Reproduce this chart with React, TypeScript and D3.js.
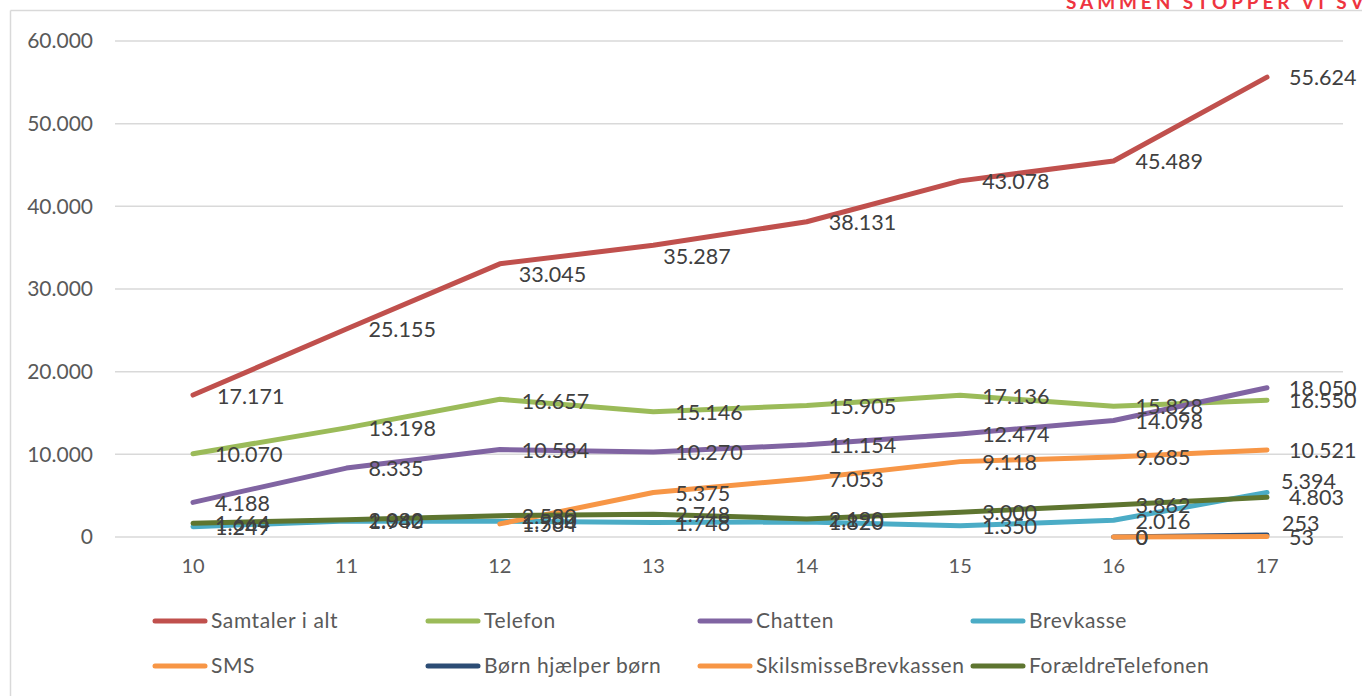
import React from "react";
import * as d3 from "d3";

const years = ["10", "11", "12", "13", "14", "15", "16", "17"];
const samtaler = [17171, 25155, 33045, 35287, 38131, 43078, 45489, 55624];
const telefon = [10070, 13198, 16657, 15146, 15905, 17136, 15828, 16550];
const chatten = [4188, 8335, 10584, 10270, 11154, 12474, 14098, 18050];
const brevkasse = [1249, 1940, 1900, 1748, 1820, 1350, 2016, 5394];
const sms = [null, null, 1584, 5375, 7053, 9118, 9685, 10521];
const bornHjaelper = [null, null, null, null, null, null, 0, 253];
const skilsmisse = [null, null, null, null, null, null, 0, 53];
const foraeldre = [1664, 2082, 2580, 2748, 2190, 3000, 3862, 4803];
const yTicks = [0, 10000, 20000, 30000, 40000, 50000, 60000];

type S = { name: string; values: (number | null)[]; color: string };
const series: S[] = [
  { name: "Samtaler i alt", values: samtaler, color: "#C0504D" },
  { name: "Telefon", values: telefon, color: "#9BBB59" },
  { name: "Chatten", values: chatten, color: "#8064A2" },
  { name: "Brevkasse", values: brevkasse, color: "#4BACC6" },
  { name: "SMS", values: sms, color: "#F79646" },
  { name: "Børn hjælper børn", values: bornHjaelper, color: "#2C4D75" },
  { name: "SkilsmisseBrevkassen", values: skilsmisse, color: "#F79646" },
  { name: "ForældreTelefonen", values: foraeldre, color: "#5E7530" },
];

// manual label nudges (series name|index -> [dx, dy])
const labelNudge: Record<string, [number, number]> = {
  "Samtaler i alt|2": [-3, 10],
  "Samtaler i alt|3": [-12, 11],
  "Brevkasse|7": [-8, -12],
  "Børn hjælper børn|7": [-7, -12],
  "Telefon|2": [0, 2],
  "Samtaler i alt|0": [2, 1],
};

const W = 1362;
const H = 696;
const FONT = "Lato, 'Open Sans', sans-serif";
const fmt = (v: number) => d3.format(",")(v).replace(/,/g, ".");

export default function App() {
  const x = d3.scalePoint<string>().domain(years).range([193, 1267]);
  const y = d3.scaleLinear().domain([0, 60000]).range([537, 41]);
  const line = d3
    .line<number | null>()
    .defined((d) => d !== null)
    .x((_, i) => x(years[i]) as number)
    .y((d) => y(d as number));

  const legendCols = [155, 428, 700, 973];
  const legendRows = [621, 666];

  return (
    <svg
      width={W}
      height={H}
      style={{ position: "absolute", left: 0, top: 0, background: "#fff" }}
      fontFamily={FONT}
    >
      <rect x={0} y={0} width={W} height={H} fill="#fff" />
      <text
        x={1066}
        y={9}
        fontSize={19}
        fontWeight={700}
        letterSpacing={3.9}
        fill="#EE3440"
      >
        SAMMEN STOPPER VI SVIGT
      </text>
      <line x1={10.5} y1={10.5} x2={W} y2={10.5} stroke="#D9D9D9" strokeWidth={1.5} />
      <line x1={10.5} y1={10.5} x2={10.5} y2={H} stroke="#D9D9D9" strokeWidth={1.5} />

      {yTicks.map((t) => (
        <g key={t}>
          <line x1={115} x2={1343} y1={y(t)} y2={y(t)} stroke="#D9D9D9" strokeWidth={1.5} />
          <text
            x={93}
            y={y(t)}
            dy="0.35em"
            textAnchor="end"
            fontSize={21}
            fill="#595959"
          >
            {fmt(t)}
          </text>
        </g>
      ))}
      {years.map((yr) => (
        <text
          key={yr}
          x={x(yr)}
          y={566}
          dy="0.35em"
          textAnchor="middle"
          fontSize={20}
          fill="#595959"
        >
          {yr}
        </text>
      ))}

      {series.map((s) => (
        <path
          key={s.name}
          d={line(s.values) || ""}
          fill="none"
          stroke={s.color}
          strokeWidth={5}
          strokeLinecap="round"
          strokeLinejoin="round"
        />
      ))}

      {series.map((s) =>
        s.values.map((v, i) => {
          if (v === null) return null;
          const n = labelNudge[s.name + "|" + i] || [0, 0];
          return (
            <text
              key={s.name + i}
              x={(x(years[i]) as number) + 22 + n[0]}
              y={y(v) + n[1]}
              dy="0.38em"
              fontSize={21.5}
              fill="#404040"
            >
              {fmt(v)}
            </text>
          );
        })
      )}

      {series.map((s, i) => {
        const cx = legendCols[i % 4];
        const cy = legendRows[Math.floor(i / 4)];
        return (
          <g key={"lg" + s.name}>
            <line
              x1={cx}
              x2={cx + 50}
              y1={cy}
              y2={cy}
              stroke={s.color}
              strokeWidth={5}
              strokeLinecap="round"
            />
            <text
              x={cx + 56}
              y={cy}
              dy="0.35em"
              fontSize={21}
              letterSpacing={0.6}
              fill="#595959"
            >
              {s.name}
            </text>
          </g>
        );
      })}
    </svg>
  );
}
